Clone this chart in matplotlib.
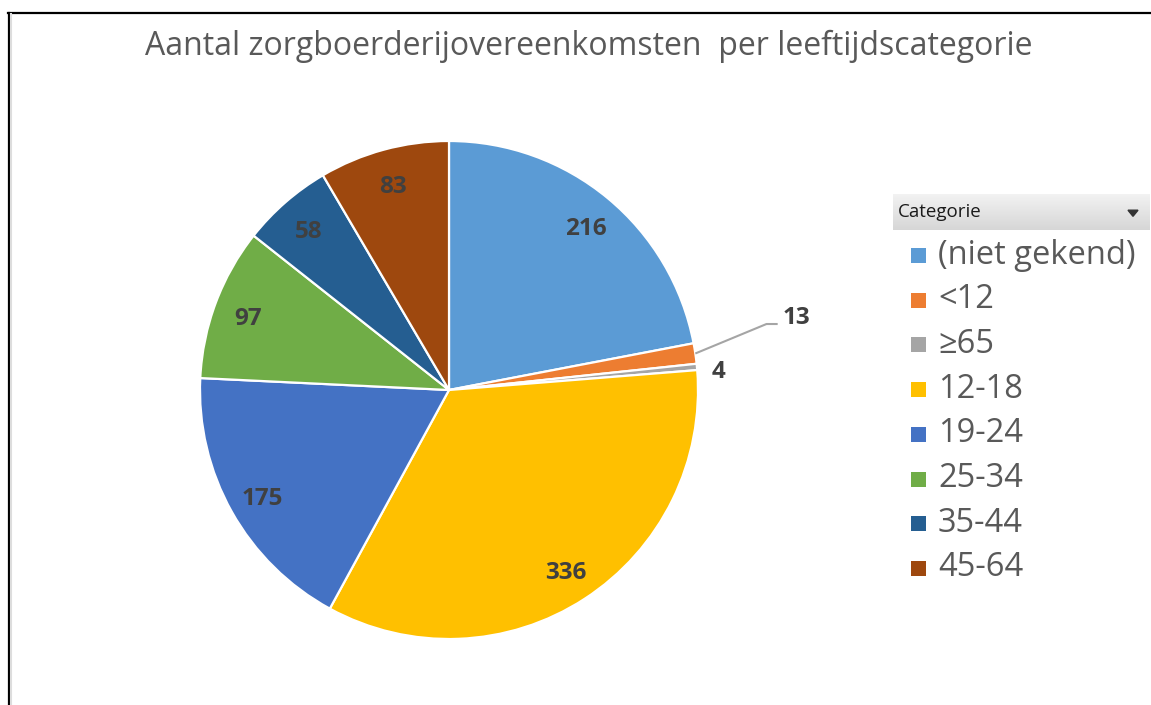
import numpy as np
import matplotlib
matplotlib.use("Agg")
import matplotlib.pyplot as plt
from matplotlib.patches import Rectangle, Polygon

plt.rcParams["font.family"] = ["Open Sans", "DejaVu Sans"]

# Data
categories = ["(niet gekend)", "<12", "≥65", "12-18", "19-24", "25-34", "35-44", "45-64"]
counts = [216, 13, 4, 336, 175, 97, 58, 83]
colors = ["#5B9BD5", "#ED7D31", "#A5A5A5", "#FFC000",
          "#4472C4", "#70AD47", "#255E91", "#9E480E"]
title = "Aantal zorgboerderijovereenkomsten  per leeftijdscategorie"
legend_title = "Categorie"

W, H = 1151, 705
fig = plt.figure(figsize=(W / 100, H / 100), dpi=100)

# pie axes: centre (449, 390) px, radius 249 px
R = 249
cx, cy = 449, H - 390
lim = 1.2
ax = fig.add_axes([(cx - lim * R) / W, (cy - lim * R) / H, 2 * lim * R / W, 2 * lim * R / H])
wedges, _ = ax.pie(counts, colors=colors, startangle=90, counterclock=False,
                   wedgeprops=dict(edgecolor="white", linewidth=1.6))
ax.set_xlim(-lim, lim)
ax.set_ylim(-lim, lim)
ax.set_aspect("equal")
ax.axis("off")

label_kw = dict(fontsize=17.5, fontweight="bold", color="#404040", ha="center", va="center")
for w, v in zip(wedges, counts):
    mid = np.deg2rad((w.theta1 + w.theta2) / 2)
    if v >= 50:
        ax.text(0.86 * np.cos(mid), 0.86 * np.sin(mid) - 0.015, str(v), **label_kw)

# small slices: outside labels
w13 = wedges[1]
m13 = np.deg2rad((w13.theta1 + w13.theta2) / 2)
p0 = (1.0 * np.cos(m13), 1.0 * np.sin(m13))
ax.plot([p0[0], 1.275, 1.32], [p0[1], 0.265, 0.265], color="#A5A5A5", lw=1.5,
        clip_on=False, solid_capstyle="butt")
ax.text(1.34, 0.29, str(counts[1]), clip_on=False, **{**label_kw, "ha": "left"})

w4 = wedges[2]
m4 = np.deg2rad((w4.theta1 + w4.theta2) / 2 - 1.5)
ax.text(1.085 * np.cos(m4), 1.085 * np.sin(m4), str(counts[2]), clip_on=False, **label_kw)

# title
fig.text(589 / W, 1 - 46 / H, title, fontsize=23, color="#595959", ha="center", va="center")

# border lines (top and left)
fig.add_artist(plt.Line2D([8 / W, 1], [1 - 13 / H, 1 - 13 / H], color="black", lw=1.6))
fig.add_artist(plt.Line2D([8.5 / W, 8.5 / W], [0, 1 - 13 / H], color="black", lw=1.6))
fig.add_artist(plt.Line2D([11 / W, 11 / W], [0, 1 - 14 / H], color="#dddddd", lw=1.5))

# legend header with gradient
hx0, hx1, hy0, hy1 = 893, 1150, 194, 230
grad = np.linspace(0.95, 0.84, 50).reshape(-1, 1)
hax = fig.add_axes([hx0 / W, 1 - hy1 / H, (hx1 - hx0) / W, (hy1 - hy0) / H])
hax.imshow(np.dstack([grad, grad, grad]), aspect="auto", extent=[0, 1, 0, 1])
hax.set_xlim(0, 1)
hax.set_ylim(0, 1)
hax.axis("off")
hax.text(5 / (hx1 - hx0), 0.5, legend_title, fontsize=13.5, color="#1a1a1a",
         ha="left", va="center")
ax_w = hx1 - hx0
tri = Polygon([[(1133 - 5 - hx0) / ax_w, 0.55], [(1133 + 5 - hx0) / ax_w, 0.55],
               [(1133 - hx0) / ax_w, 0.38]], closed=True, color="#333333")
hax.add_patch(tri)

# legend entries
y0, dy = 255, 44.7
for i, (cat, col) in enumerate(zip(categories, colors)):
    y = y0 + i * dy
    fig.add_artist(Rectangle((911 / W, 1 - (y + 8) / H), 15 / W, 15 / H,
                             transform=fig.transFigure, facecolor=col, edgecolor="none"))
    fig.text(938 / W, 1 - y / H, cat, fontsize=23.5, color="#595959", ha="left", va="center")

fig.savefig("out.png", dpi=100)
